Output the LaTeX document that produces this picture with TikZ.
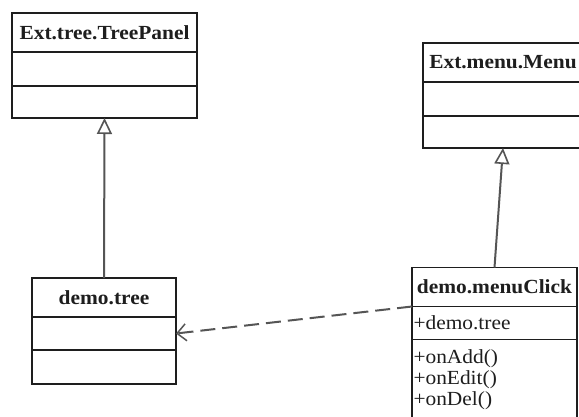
\documentclass[tikz,border=0pt]{standalone}
\usepackage{fontspec}
\usepackage{tikz}
\usetikzlibrary{arrows.meta,positioning}
\newfontfamily\umlfont[FakeStretch=1.07]{Liberation Serif}
\definecolor{boxline}{RGB}{30,30,30}
\definecolor{linkgray}{RGB}{85,85,85}

\begin{document}
\begin{tikzpicture}[
        x=1pt, y=-1pt,
        classname/.style={
            rectangle,
            draw=boxline,
            line width=1.8pt,
            outer sep=0pt,
            inner sep=0pt,
            minimum height=39pt,
            text=boxline,
            font=\umlfont\bfseries\fontsize{20}{21}\selectfont,
            align=center
        },
        members/.style={
            rectangle,
            draw=boxline,
            line width=1.8pt,
            outer sep=0pt,
            inner xsep=1.5pt,
            inner ysep=0pt,
            text=boxline,
            font=\umlfont\fontsize{20}{21}\selectfont,
            align=left
        },
        inherit/.style={
            draw=linkgray,
            line width=2pt,
            -{Triangle[open,length=16pt,width=15pt,line width=1.6pt,fill=white]}
        },
        depend/.style={
            draw=linkgray,
            line width=2pt,
            dash pattern=on 15pt off 7pt,
            -{Straight Barb[length=9pt,width=17pt,line width=1.5pt]}
        }
    ]

    \clip (0,0) rectangle (579,416);
    \fill[white] (0,0) rectangle (579,416);

    % Ext.tree.TreePanel at the top left
    \node[classname, minimum width=185pt] (panelhead) at (104.5,32.5) {Ext.tree.TreePanel};
    \node[members, text width=182pt, minimum height=34pt, below=0pt of panelhead] (panelattr) {};
    \node[members, text width=182pt, minimum height=32pt, below=0pt of panelattr] (panelops) {};

    % Ext.menu.Menu at the top right
    \node[classname, minimum width=160pt] (menuhead) at (503,62.5) {Ext.menu.Menu};
    \node[members, text width=157pt, minimum height=34pt, below=0pt of menuhead] (menuattr) {};
    \node[members, text width=157pt, minimum height=32pt, below=0pt of menuattr] (menuops) {};

    % demo.tree below the tree panel
    \node[classname, minimum width=144pt] (treehead) at (104,297.5) {demo.tree};
    \node[members, text width=141pt, minimum height=33pt, below=0pt of treehead] (treeattr) {};
    \node[members, text width=141pt, minimum height=34pt, below=0pt of treeattr] (treeops) {};

    % demo.menuClick below the menu
    \node[classname, minimum width=165pt] (clickhead) at (494.5,287) {demo.menuClick};
    \node[members, text width=162pt, minimum height=33pt, below=0pt of clickhead] (clickattr) {+demo.tree};
    \node[members, text width=162pt, minimum height=80pt, below=0pt of clickattr] (clickops) {+onAdd()\\+onEdit()\\+onDel()};

    % Draw connection arrows
    \draw[inherit] (treehead.north) -- (panelops.south);
    \draw[inherit] (clickhead.north) -- (menuops.south);
    \draw[depend] (clickhead.south west) -- (treeattr.east);

\end{tikzpicture}
\end{document}
